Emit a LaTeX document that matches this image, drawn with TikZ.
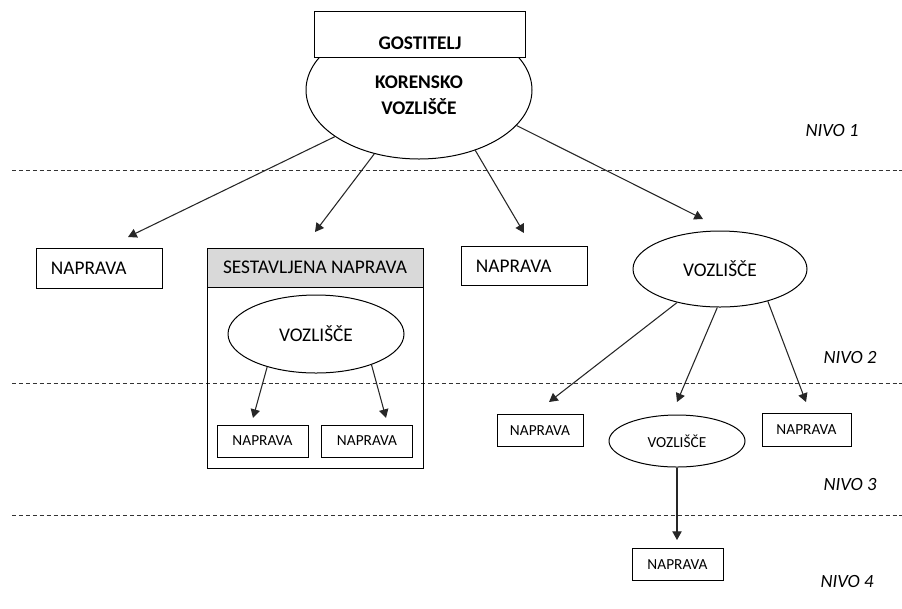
\documentclass[tikz,border=0pt]{standalone}
\usepackage{fontspec}
\setmainfont{Carlito}
\usetikzlibrary{shapes.geometric,arrows.meta}
\begin{document}
\begin{tikzpicture}[x=0.75pt,y=-0.75pt,
  every node/.style={inner sep=0pt},
  conn/.style={draw=black!85, line width=0.8pt, -{Triangle[length=6.5pt,width=7pt]}},
  levelline/.style={draw=black!80, line width=0.75pt, dash pattern=on 3pt off 2.2pt},
  bigbox/.style={draw, line width=0.75pt, fill=white, minimum height=29.5pt,
    text width=73pt, inner xsep=10.5pt, align=left, font=\fontsize{14.5}{17}\selectfont},
  smallbox/.style={draw, line width=0.75pt, fill=white, minimum width=67pt,
    minimum height=24.5pt, font=\fontsize{11.5}{14}\selectfont},
  oval/.style={draw, ellipse, line width=0.75pt, fill=white},
  bigtext/.style={font=\fontsize{14.5}{17}\selectfont},
  nivo/.style={font=\fontsize{14}{17}\selectfont\itshape}
]
\useasboundingbox (0,0) rectangle (902,608);

% level separators
\draw[levelline] (12,170) -- (902,170);
\draw[levelline] (12,383) -- (902,383);
\draw[levelline] (12,515) -- (902,515);

% level labels
\node[nivo] (n1) at (832,130) {NIVO 1};
\node[nivo] (n2) at (850,357) {NIVO 2};
\node[nivo] (n3) at (850,484) {NIVO 3};
\node[nivo] (n4) at (847,581) {NIVO 4};

% host with root hub
\node[oval, minimum width=169.5pt, minimum height=103.5pt] (root) at (419,90) {};
\node[font=\fontsize{14.5}{19.5}\selectfont\bfseries, align=center] (roottext) at (419,95) {KORENSKO\\VOZLIŠČE};
\node[draw, line width=0.75pt, fill=white, minimum width=158.25pt, minimum height=34.5pt,
      text height=22.5pt, text depth=0pt, font=\fontsize{14.5}{17}\selectfont\bfseries] (host) at (420,34) {GOSTITELJ};

% level 2 devices
\node[bigbox] (dev1) at (99.5,268.5) {NAPRAVA};
\node[bigbox] (dev3) at (524.5,266) {NAPRAVA};

% compound device
\node[draw, line width=0.75pt, minimum width=162pt, minimum height=165pt] (comp) at (315,358) {};
\node[draw, line width=0.75pt, fill=black!15, minimum width=162pt, minimum height=29.25pt,
      bigtext] (comphead) at (315,267.5) {SESTAVLJENA NAPRAVA};
\node[oval, bigtext, minimum width=132pt, minimum height=58.5pt] (chub) at (316,334) {VOZLIŠČE};
\node[smallbox, minimum width=68.25pt, minimum height=24pt] (cdev1) at (262.5,441) {NAPRAVA};
\node[smallbox, minimum width=68.25pt, minimum height=24pt] (cdev2) at (367,441) {NAPRAVA};

% external hub
\node[oval, bigtext, minimum width=130.5pt, minimum height=57pt] (hub) at (720,269) {VOZLIŠČE};
\node[smallbox, minimum width=64.5pt] (dev4) at (540,430.5) {NAPRAVA};
\node[oval, font=\fontsize{11.5}{14}\selectfont, minimum width=102pt, minimum height=39pt] (hub2) at (677,441) {VOZLIŠČE};
\node[smallbox, minimum width=66.75pt] (dev5) at (806.5,430) {NAPRAVA};
\node[smallbox, minimum width=68.25pt] (dev6) at (677.5,564.5) {NAPRAVA};

% arrow tips
\coordinate (t1) at (128,237);
\coordinate (t2) at (315,232);
\coordinate (t3) at (524,233);
\coordinate (t4) at (703,219);
\coordinate (t5) at (253,418);
\coordinate (t6) at (386,418);
\coordinate (t7) at (549,402);
\coordinate (t8) at (677,402);
\coordinate (t9) at (806,402);
\coordinate (t10) at (677,540);

% connections
\draw[conn] (root.-151) -- (t1);
\draw[conn] (root.-125.5) -- (t2);
\draw[conn] (root.-47.8) -- (t3);
\draw[conn] (root.-20.8) -- (t4);
\draw[conn] (chub.-146) -- (t5);
\draw[conn] (chub.-29.7) -- (t6);
\draw[conn] (hub.-142.6) -- (t7);
\draw[conn] (hub.-94) -- (t8);
\draw[conn] (hub.-34.8) -- (t9);
\draw[conn] (hub2.south) -- (t10);
\end{tikzpicture}
\end{document}
